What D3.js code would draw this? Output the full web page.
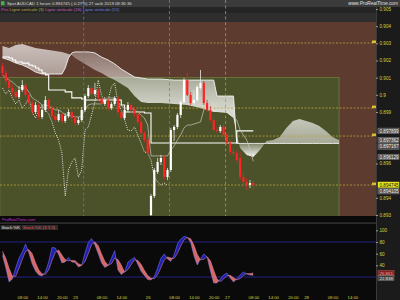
<!DOCTYPE html>
<html>
<head>
<meta charset="utf-8">
<script src="https://cdn.jsdelivr.net/npm/d3@7"></script>
<style>
body { margin: 0; background: #000; }
svg { display: block; font-family: "Liberation Sans", Arial, sans-serif; }
</style>
</head>
<body>
<script>
// hourly candles, slot 0 = 22 aout 02:00 (week-end skipped)
var opens = [0.90168,0.90127,0.90081,0.90040,0.90017,0.89987,0.90028,0.90057,0.89999,0.89952,
  0.89900,0.89941,0.89871,0.89912,0.89970,0.89923,0.89877,0.89853,0.89888,0.89848,
  0.89877,0.89900,0.89865,0.89836,0.89853,0.89912,0.89993,0.90040,0.90005,0.90028,
  0.89982,0.89947,0.89970,0.89923,0.89947,0.89982,0.89900,0.89865,0.89912,0.89941,
  0.89912,0.89888,0.89842,0.89778,0.89737,0.89300,0.89411,0.89551,0.89609,0.89638,
  0.89521,0.89562,0.89795,0.89813,0.89883,0.89958,0.90086,0.89999,0.89952,0.89970,
  0.90040,0.90069,0.89952,0.89912,0.89853,0.89795,0.89789,0.89813,0.89766,0.89719,
  0.89667,0.89661,0.89632,0.89521,0.89492,0.89475,0.89486];
var highs = [0.90185,0.90145,0.90098,0.90063,0.90040,0.90051,0.90086,0.90069,0.90017,0.89970,
  0.89958,0.89952,0.89935,0.89993,0.89982,0.89941,0.89900,0.89912,0.89900,0.89894,
  0.89917,0.89912,0.89883,0.89871,0.89929,0.90005,0.90057,0.90051,0.90069,0.90040,
  0.89999,0.89987,0.89982,0.89958,0.89993,0.89993,0.89923,0.89923,0.89958,0.89952,
  0.89929,0.89900,0.89883,0.89789,0.89760,0.89422,0.89574,0.89632,0.89650,0.89650,
  0.89574,0.89807,0.89824,0.89894,0.89970,0.90098,0.90127,0.90017,0.90028,0.90057,
  0.90145,0.90081,0.89970,0.89935,0.89865,0.89813,0.89824,0.89830,0.89778,0.89737,
  0.89690,0.89679,0.89667,0.89551,0.89516,0.89504,0.89504];
var lows = [0.90110,0.90063,0.90028,0.89999,0.89970,0.89976,0.90017,0.89982,0.89935,0.89883,
  0.89888,0.89853,0.89859,0.89900,0.89906,0.89859,0.89836,0.89842,0.89830,0.89836,
  0.89865,0.89842,0.89818,0.89824,0.89842,0.89900,0.89982,0.89987,0.89993,0.89964,
  0.89929,0.89935,0.89906,0.89912,0.89935,0.89883,0.89848,0.89853,0.89900,0.89894,
  0.89871,0.89824,0.89766,0.89725,0.89650,0.89288,0.89399,0.89539,0.89591,0.89504,
  0.89504,0.89551,0.89731,0.89801,0.89865,0.89947,0.89993,0.89941,0.89941,0.89958,
  0.90028,0.89941,0.89900,0.89842,0.89784,0.89778,0.89778,0.89754,0.89708,0.89650,
  0.89644,0.89603,0.89504,0.89475,0.89446,0.89457,0.89446];
var closes = [0.90127,0.90081,0.90040,0.90017,0.89987,0.90028,0.90057,0.89999,0.89952,0.89900,
  0.89941,0.89871,0.89912,0.89970,0.89923,0.89877,0.89853,0.89888,0.89848,0.89877,
  0.89900,0.89865,0.89836,0.89853,0.89912,0.89993,0.90040,0.90005,0.90028,0.89982,
  0.89947,0.89970,0.89923,0.89947,0.89982,0.89900,0.89865,0.89912,0.89941,0.89912,
  0.89888,0.89842,0.89778,0.89737,0.89661,0.89411,0.89562,0.89609,0.89632,0.89521,
  0.89562,0.89795,0.89813,0.89883,0.89958,0.90086,0.89999,0.89952,0.89970,0.90046,
  0.90069,0.89952,0.89912,0.89853,0.89795,0.89789,0.89813,0.89766,0.89719,0.89667,
  0.89661,0.89620,0.89521,0.89492,0.89475,0.89486,0.894745];

// Ichimoku
var tenkan = [0.90116,0.90098,0.90086,0.90075,0.90057,0.90040,0.90040,0.90040,0.90017,0.89982,
  0.89970,0.89958,0.89941,0.89941,0.89935,0.89923,0.89912,0.89912,0.89900,0.89883,
  0.89877,0.89877,0.89871,0.89871,0.89877,0.89912,0.89941,0.89947,0.89947,0.89947,
  0.89947,0.89970,0.89982,0.89982,0.89982,0.89958,0.89935,0.89923,0.89923,0.89923,
  0.89912,0.89900,0.89883,0.89865,0.89824,0.89644,0.89644,0.89644,0.89644,0.89644,
  0.89644,0.89679,0.89702,0.89737,0.89766,0.89807,0.89824,0.89824,0.89830,0.89836,
  0.89842,0.89912,0.89970,0.89970,0.89970,0.89970,0.89947,0.89923,0.89923,0.89900,
  0.89871,0.89853,0.89795,0.89766,0.89737,0.89679,0.896129];
var kijunSteps = [[0,0.90220],[2,0.90215],[3,0.90203],[4,0.90191],[6,0.90185],[8,0.90174],
  [9,0.90168],[10,0.90156],[11,0.90145],[12,0.90127],[13,0.90116],[14,0.90028],[19,0.90017],
  [21,0.89982],[24,0.89976],[25,0.89970],[36,0.89941],[37,0.89900],[43,0.89894],[45,0.89719],
  [71,0.897899],[76,0.897899]];
// [slot, senkou A, senkou B]
var cloudRows = [[0,0.90284,0.90215],[2,0.90273,0.90203],[4,0.90290,0.90185],[6,0.90296,0.90174],
  [8,0.90284,0.90156],[10,0.90273,0.90133],[12,0.90267,0.90121],[14,0.90261,0.90121],
  [16,0.90255,0.90121],[18,0.90250,0.90121],[19,0.90244,0.90156],[20,0.90238,0.90215],
  [21,0.90232,0.90244],[22,0.90215,0.90250],[24,0.90191,0.90250],[26,0.90168,0.90250],
  [28,0.90145,0.90244],[30,0.90127,0.90220],[32,0.90104,0.90203],[34,0.90086,0.90180],
  [36,0.90063,0.90150],[38,0.90040,0.90127],[40,0.89993,0.90104],[42,0.89958,0.90098],
  [44,0.89952,0.90092],[48,0.89952,0.90092],[52,0.89947,0.90086],[56,0.89941,0.90086],
  [60,0.89923,0.90086],[64,0.89900,0.90086],[65,0.89900,0.89993],[68,0.89894,0.89993],
  [70,0.89865,0.89993],[71,0.89766,0.89717],[72,0.89690,0.89717],[74,0.89650,0.89717],
  [76,0.89638,0.89717],[78,0.89679,0.89717],[80,0.89731,0.89717],[82,0.89737,0.89717],
  [84,0.89754,0.89717],[86,0.89807,0.89717],[88,0.89848,0.89717],[90,0.89859,0.89717],
  [92,0.89848,0.89717],[94,0.89836,0.89717],[96,0.89818,0.89717],[98,0.89789,0.89717],
  [100,0.89754,0.89717],[102,0.89736,0.89717]];

// Stochastique %K / %D (3 3 3)
var stochK = [57,35.5,11.5,16.6,35.5,52.6,62.9,76.6,61.2,42.3,
  30.3,23.5,21.8,28.6,45.8,70.6,69.8,58.6,44.1,45.8,
  53.3,45.8,44.7,37.2,39.8,61.2,79.4,85.9,74.9,60.2,
  44.4,36.3,39.6,52.1,65.1,32.1,24.2,28.6,45.3,49.7,
  53.7,41.8,29.7,22.6,15.6,14.9,20.7,35.5,52.1,59.5,
  50.9,46.8,57.8,76.6,84.7,89.7,88.1,79.4,56.7,40.6,
  50.9,59.5,54.3,30.3,9.8,9.8,16.6,23.5,26.9,18.3,
  11.5,16.6,23.5,28.6,25.2,23.5,22.838];
var stochD = [64,52,34.7,21.2,21.2,34.9,50.3,64,66.9,60,
  44.6,32,25.2,24.6,32.1,48.3,62.1,66.3,57.5,49.5,
  47.7,48.3,47.9,42.6,40.6,46.1,60.1,75.5,80.1,73.7,
  59.8,47,40.1,42.7,52.3,49.8,40.5,28.3,32.7,41.2,
  49.6,48.4,41.7,31.4,22.6,17.7,17.1,23.7,36.1,49,
  54.2,52.4,51.8,60.4,73,83.7,87.5,85.7,74.7,58.9,
  49.4,50.3,54.9,48,31.5,16.6,12.1,16.6,22.3,22.9,
  18.9,15.5,17.2,22.9,25.8,25.8,26.861];

var timeTicks = [[6,"08:00"],[12,"14:00"],[18,"20:00"],[22,"23"],[30,"08:00"],[36,"14:00"],
  [44,"26"],[52,"08:00"],[58,"14:00"],[64,"20:00"],[68,"27"],[76,"08:00"],[82,"14:00"],
  [88,"20:00"],[92,"28"],[100,"08:00"],[106,"14:00"]];
var priceTicks = [0.905,0.904,0.903,0.902,0.901,0.9,0.899,0.896,0.894,0.893];
var priceLabels = [0.897899,0.897362,0.897167,0.896129,0.894745,0.894105];
var levels = [0.90302,0.89923,0.8976,0.894745];
var verticalPeriods = [9,26,52];
var stochTicks = [100,80,60,40];
var stochLevels = [80,20];
var zone = {from: -0.8, to: 102, top: 0.90101, bottom: 0.8929};

var lastSlot = closes.length - 1;
var plotRight = 376;
var mainTop = 22, mainBottom = 216;
var sTop = 224, sBot = 291;

var x = d3.scaleLinear().domain([0, 113]).range([2.5, 2.5 + 113 * 3.3]);
var y = d3.scaleLinear().domain([0.893, 0.905]).range([215, 9]);
var ys = d3.scaleLinear().domain([0, 100]).range([288.7, 230.3]);

var svg = d3.select("body").append("svg").attr("width", 400).attr("height", 300);
var defs = svg.append("defs");

defs.append("clipPath").attr("id", "mainClip").append("rect")
    .attr("x", 0).attr("y", mainTop).attr("width", plotRight).attr("height", mainBottom - mainTop);

var gBear = defs.append("linearGradient").attr("id", "cloudBear")
    .attr("x1", 0).attr("y1", 0).attr("x2", 0).attr("y2", 1);
gBear.append("stop").attr("offset", "0%").attr("stop-color", "#fff").attr("stop-opacity", 0.3);
gBear.append("stop").attr("offset", "100%").attr("stop-color", "#fff").attr("stop-opacity", 0.95);
var gBull = defs.append("linearGradient").attr("id", "cloudBull")
    .attr("x1", 0).attr("y1", 0).attr("x2", 0).attr("y2", 1);
gBull.append("stop").attr("offset", "0%").attr("stop-color", "#fff").attr("stop-opacity", 0.68);
gBull.append("stop").attr("offset", "100%").attr("stop-color", "#fff").attr("stop-opacity", 0.5);

/* backgrounds */
svg.append("rect").attr("width", 400).attr("height", 300).attr("fill", "#0a0a0a");
svg.append("rect").attr("width", 400).attr("height", 7).attr("fill", "#3b3b3b");
svg.append("rect").attr("y", 7).attr("width", plotRight).attr("height", 6).attr("fill", "#252525");
svg.append("rect").attr("y", 13).attr("width", plotRight).attr("height", mainTop - 13).attr("fill", "#2e2e2e");
svg.append("rect").attr("y", mainTop).attr("width", plotRight).attr("height", mainBottom - mainTop).attr("fill", "#5d3b2e");
svg.append("rect").attr("x", plotRight).attr("y", 7).attr("width", 400 - plotRight).attr("height", 293).attr("fill", "#1b1b1b");
svg.append("line").attr("x1", plotRight + 0.5).attr("x2", plotRight + 0.5).attr("y1", 7).attr("y2", 300)
    .attr("stroke", "#3a3a3a");
svg.append("rect").attr("y", 222.5).attr("width", plotRight).attr("height", 1.2).attr("fill", "#3c3c3c");

var plot = svg.append("g").attr("clip-path", "url(#mainClip)");

// drawn rectangle zone
plot.append("rect")
    .attr("x", x(zone.from)).attr("y", y(zone.top))
    .attr("width", x(zone.to) - x(zone.from)).attr("height", y(zone.bottom) - y(zone.top))
    .attr("fill", "#4b5229").attr("stroke", "#6f7d3c").attr("stroke-width", 0.8);

// kumo split where senkou A and B cross
var segs = [], cur = [];
cloudRows.forEach(function(r, i) {
  if (i > 0) {
    var p = cloudRows[i - 1];
    var d0 = p[1] - p[2], d1 = r[1] - r[2];
    if (d0 * d1 < 0) {
      var t = d0 / (d0 - d1);
      var cx = p[0] + t * (r[0] - p[0]), cy = p[1] + t * (r[1] - p[1]);
      cur.push([cx, cy, cy]);
      segs.push({bull: d0 > 0, pts: cur});
      cur = [[cx, cy, cy]];
    }
  }
  cur.push(r);
});
segs.push({bull: cur[cur.length - 1][1] > cur[cur.length - 1][2], pts: cur});

var cloudArea = d3.area()
    .x(function(d) { return x(d[0]); })
    .y0(function(d) { return y(d[1]); })
    .y1(function(d) { return y(d[2]); });
plot.selectAll(".kumo").data(segs).enter().append("path")
    .attr("class", "kumo")
    .attr("d", function(s) { return cloudArea(s.pts); })
    .attr("fill", function(s) { return s.bull ? "url(#cloudBull)" : "url(#cloudBear)"; });

// horizontal levels
plot.selectAll(".lvl").data(levels).enter().append("line")
    .attr("x1", 0).attr("x2", plotRight - 3)
    .attr("y1", function(d) { return y(d); }).attr("y2", function(d) { return y(d); })
    .attr("stroke", "#b8a23e").attr("stroke-width", 0.8).attr("stroke-dasharray", "2,1.5");
plot.selectAll(".lvlbox").data(levels).enter().append("rect")
    .attr("x", plotRight - 4).attr("y", function(d) { return y(d) - 2.5; })
    .attr("width", 4).attr("height", 2.6).attr("fill", "#d8c030");

// senkou B line, kijun, tenkan, chikou
var line = d3.line().x(function(d) { return x(d[0]); }).y(function(d) { return y(d[1]); });
plot.append("path")
    .attr("d", line(cloudRows.map(function(r) { return [r[0], r[2]]; })))
    .attr("fill", "none").attr("stroke", "#f2f2f2").attr("stroke-width", 0.9);
plot.append("path")
    .attr("d", line.curve(d3.curveStepAfter)(kijunSteps))
    .attr("fill", "none").attr("stroke", "#ffffff").attr("stroke-width", 1.1);
line.curve(d3.curveLinear);
plot.append("path")
    .attr("d", line(tenkan.map(function(v, i) { return [i, v]; })))
    .attr("fill", "none").attr("stroke", "#c9c9c0").attr("stroke-width", 0.7);
plot.append("path")
    .attr("d", line(closes.slice(26).map(function(v, i) { return [i, v]; })))
    .attr("fill", "none").attr("stroke", "#f0f0f0").attr("stroke-width", 0.9)
    .attr("stroke-dasharray", "1,1.2");

// candles
var candles = closes.map(function(c, i) {
  return {i: i, o: opens[i], h: highs[i], l: lows[i], c: c};
});
plot.selectAll(".wick").data(candles).enter().append("line")
    .attr("class", "wick")
    .attr("x1", function(d) { return x(d.i); }).attr("x2", function(d) { return x(d.i); })
    .attr("y1", function(d) { return y(d.h); }).attr("y2", function(d) { return y(d.l); })
    .attr("stroke", function(d) { return d.c >= d.o ? "#e6e6e6" : "#c8302c"; })
    .attr("stroke-width", 0.8);
plot.selectAll(".body").data(candles).enter().append("rect")
    .attr("class", "body")
    .attr("x", function(d) { return x(d.i) - 1.1; }).attr("width", 2.2)
    .attr("y", function(d) { return y(Math.max(d.o, d.c)); })
    .attr("height", function(d) { return Math.max(1, Math.abs(y(d.o) - y(d.c))); })
    .attr("fill", function(d) { return d.c >= d.o ? "#ffffff" : "#ff2424"; });

// vertical lines (n periods back), drawn at the candle's right half
var vColors = {9: "#a99a4c", 26: "#b55cb5", 52: "#6374c4"};
svg.selectAll(".vl").data(verticalPeriods).enter().append("line")
    .attr("x1", function(n) { return x(lastSlot - n + 0.6); })
    .attr("x2", function(n) { return x(lastSlot - n + 0.6); })
    .attr("y1", 0).attr("y2", mainBottom)
    .attr("stroke", function(n) { return vColors[n]; })
    .attr("stroke-width", 0.8).attr("stroke-dasharray", "3,2.5");

/* price axis */
var yAxis = d3.axisRight(y).tickValues(priceTicks).tickSize(2)
    .tickFormat(function(d) { return +d.toFixed(3); });
svg.append("g").attr("transform", "translate(" + plotRight + ",0)").call(yAxis)
    .attr("font-size", 4.6).attr("font-family", "Liberation Sans, Arial, sans-serif")
    .call(function(g) { g.select(".domain").remove(); })
    .call(function(g) { g.selectAll("line").attr("stroke", "#9a9a9a"); })
    .call(function(g) { g.selectAll("text").attr("fill", "#d9d23c").attr("x", 3.5); });

// value boxes on the axis, pushed apart when they overlap
function placeBoxes(vals, scale, fixed, gap) {
  var items = vals.map(function(v) { return {v: v, y: scale(v)}; })
      .sort(function(a, b) { return a.y - b.y; });
  for (var i = 1; i < items.length; i++) items[i].y = Math.max(items[i].y, items[i - 1].y + gap);
  for (var j = items.length - 1; j >= 0; j--) {
    var below = fixed.map(scale).concat(items.slice(j + 1).map(function(d) { return d.y; }))
        .filter(function(p) { return p > items[j].y - 0.01 || p > scale(items[j].v) - 0.01; });
    var lim = d3.min(below);
    if (lim !== undefined && items[j].y > lim - gap) items[j].y = lim - gap;
  }
  return items;
}
var pBoxes = placeBoxes(priceLabels, y, priceTicks, 6.5);
var pb = svg.selectAll(".pbox").data(pBoxes).enter().append("g")
    .attr("transform", function(d) { return "translate(" + (plotRight + 2) + "," + d.y + ")"; });
pb.append("rect").attr("x", 0).attr("y", -2.8).attr("width", 21).attr("height", 5.4)
    .attr("fill", function(d) { return d.v === closes[lastSlot] ? "#ece81e" : "#4a4a4a"; })
    .attr("stroke", function(d) { return d.v === closes[lastSlot] ? "#ece81e" : "#8a8a8a"; })
    .attr("stroke-width", 0.5);
pb.append("text").attr("x", 1.5).attr("y", 1.7).attr("font-size", 4.6)
    .attr("fill", function(d) { return d.v === closes[lastSlot] ? "#111" : "#f4f4f4"; })
    .text(function(d) { return d.v.toFixed(6); });

/* stochastic panel */
var sg = svg.append("g");
sg.selectAll(".slv").data(stochLevels).enter().append("line")
    .attr("x1", 0).attr("x2", plotRight)
    .attr("y1", function(d) { return ys(d); }).attr("y2", function(d) { return ys(d); })
    .attr("stroke", "#2a2aa6").attr("stroke-width", 0.8);
var stoch = stochK.map(function(k, i) { return {i: i, k: k, d: stochD[i]}; });
var sx = function(d) { return x(d.i); };
defs.append("clipPath").attr("id", "kBelow").append("path")
    .attr("d", d3.area().x(sx).y0(sBot).y1(function(d) { return ys(d.k); })(stoch));
defs.append("clipPath").attr("id", "kAbove").append("path")
    .attr("d", d3.area().x(sx).y0(sTop).y1(function(d) { return ys(d.k); })(stoch));
sg.append("path")
    .attr("d", d3.area().x(sx).y0(sTop).y1(function(d) { return ys(d.d); })(stoch))
    .attr("clip-path", "url(#kBelow)").attr("fill", "#2020b0");
sg.append("path")
    .attr("d", d3.area().x(sx).y0(sBot).y1(function(d) { return ys(d.d); })(stoch))
    .attr("clip-path", "url(#kAbove)").attr("fill", "#d86868");
sg.append("path")
    .attr("d", d3.line().x(sx).y(function(d) { return ys(d.k); })(stoch))
    .attr("fill", "none").attr("stroke", "#8080ff").attr("stroke-width", 0.5);
sg.append("path")
    .attr("d", d3.line().x(sx).y(function(d) { return ys(d.d); })(stoch))
    .attr("fill", "none").attr("stroke", "#f09090").attr("stroke-width", 0.5);

var sAxis = d3.axisRight(ys).tickValues(stochTicks).tickSize(2);
svg.append("g").attr("transform", "translate(" + plotRight + ",0)").call(sAxis)
    .attr("font-size", 4.6).attr("font-family", "Liberation Sans, Arial, sans-serif")
    .call(function(g) { g.select(".domain").remove(); })
    .call(function(g) { g.selectAll("line").attr("stroke", "#9a9a9a"); })
    .call(function(g) { g.selectAll("text").attr("fill", "#d9d23c").attr("x", 3.5); });
var sBoxes = placeBoxes([stochD[lastSlot], stochK[lastSlot]], ys, [], 5.2);
var sb = svg.selectAll(".sbox").data(sBoxes).enter().append("g")
    .attr("transform", function(d) { return "translate(" + (plotRight + 2) + "," + d.y + ")"; });
sb.append("rect").attr("y", -2.6).attr("width", 16).attr("height", 5)
    .attr("fill", function(d) { return d.v === stochD[lastSlot] ? "#7a2424" : "#3c3c3c"; })
    .attr("stroke", function(d) { return d.v === stochD[lastSlot] ? "#c05050" : "#8a8a8a"; })
    .attr("stroke-width", 0.5);
sb.append("text").attr("x", 1.5).attr("y", 1.6).attr("font-size", 4.4)
    .attr("fill", function(d) { return d.v === stochD[lastSlot] ? "#ff9a9a" : "#f0f0f0"; })
    .text(function(d) { return d.v.toFixed(3); });

/* time axis */
var xAxis = d3.axisBottom(x)
    .tickValues(timeTicks.map(function(t) { return t[0]; }))
    .tickSize(0)
    .tickFormat(function(s) { return timeTicks.find(function(t) { return t[0] === s; })[1]; });
svg.append("g").attr("transform", "translate(0,292)").call(xAxis)
    .attr("font-size", 4.2).attr("font-family", "Liberation Sans, Arial, sans-serif")
    .call(function(g) { g.select(".domain").remove(); })
    .call(function(g) { g.selectAll("text").attr("fill", "#d9d23c").attr("dy", "0.9em"); });

/* header texts */
svg.append("rect").attr("x", 1).attr("y", 1.2).attr("width", 3.5).attr("height", 4).attr("fill", "#48b048");
svg.append("text").attr("x", 7).attr("y", 5).attr("font-size", 4.3).attr("fill", "#d8d8d8")
    .text("Spot AUDCAD   1 heure   0.894745 (-0.27%)   27 août 2019 08:36:36");
svg.append("text").attr("x", 398).attr("y", 5.2).attr("font-size", 4.8).attr("fill", "#e0e0e0")
    .attr("text-anchor", "end").attr("font-style", "italic").text("www.ProRealTime.com");
var leg = svg.append("text").attr("x", 1).attr("y", 11.3).attr("font-size", 4.3);
leg.append("tspan").attr("fill", "#d050d0").text("Prix ");
leg.append("tspan").attr("fill", "#b9a94a").text("Ligne verticale (9) ");
leg.append("tspan").attr("fill", "#c062c0").text("Ligne verticale (26) ");
leg.append("tspan").attr("fill", "#6a82e0").text("Ligne verticale (52)");

svg.append("text").attr("x", 2).attr("y", 221.2).attr("font-size", 4.2).attr("fill", "#c030c0")
    .text("ProRealTime.com");
svg.append("rect").attr("x", 0.5).attr("y", 225).attr("width", 21).attr("height", 5).attr("fill", "#2c2c2c");
svg.append("text").attr("x", 1.5).attr("y", 229).attr("font-size", 4.2).attr("fill", "#e8e8e8").text("Stoch %K");
svg.append("rect").attr("x", 22).attr("y", 225).attr("width", 36).attr("height", 5).attr("fill", "#2c2c2c");
svg.append("text").attr("x", 23).attr("y", 229).attr("font-size", 4.2).attr("fill", "#e85050").text("Stoch %D (3 3 3)");
</script>
</body>
</html>
